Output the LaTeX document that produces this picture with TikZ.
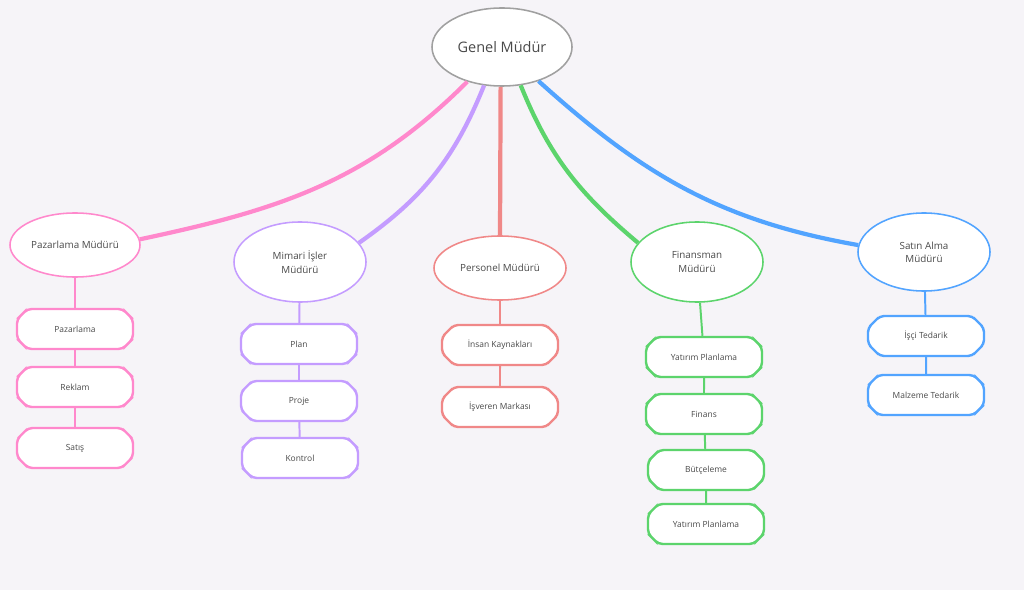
\documentclass[tikz,border=0pt]{standalone}
\usepackage{fontspec}
\setmainfont{Open Sans}
\usetikzlibrary{shapes.geometric,shapes.misc}

\definecolor{bgc}{HTML}{F6F4F8}
\definecolor{txtc}{HTML}{4A4A4A}
\definecolor{gmc}{HTML}{A0A0A0}
\definecolor{pinkc}{HTML}{FF88CC}
\definecolor{purpc}{HTML}{C49CFF}
\definecolor{redc}{HTML}{F08888}
\definecolor{greenc}{HTML}{5CD46C}
\definecolor{bluec}{HTML}{52A4FF}

\begin{document}
\begin{tikzpicture}[x=0.025cm, y=0.025cm, text=txtc,
  mgr/.style={ellipse, draw, fill=white, line width=1.1pt, inner sep=0pt,
    minimum width=3.3cm, minimum height=2cm, align=center,
    font=\fontsize{7}{9.5}\selectfont},
  task/.style={chamfered rectangle, chamfered rectangle xsep=0.3cm,
    chamfered rectangle ysep=0.18cm, draw, fill=white, line width=1.7pt,
    rounded corners=3pt, inner sep=0pt, minimum width=2.9cm,
    minimum height=1cm, font=\fontsize{6}{7}\selectfont},
  link/.style={line width=3pt},
  sub/.style={line width=1.4pt}]

\fill[bgc] (0,0) rectangle (1024,-590);
\useasboundingbox (0,0) rectangle (1024,-590);

% managers
\node[mgr, draw=gmc, minimum width=3.5cm, minimum height=1.95cm,
  font=\fontsize{10.3}{12}\selectfont] (gm) at (502,-47) {Genel Müdür};
\node[mgr, draw=pinkc, minimum width=3.25cm, minimum height=1.6cm] (paz) at (75,-245) {Pazarlama Müdürü};
\node[mgr, draw=purpc] (mim) at (300,-262) {Mimari İşler\\Müdürü};
\node[mgr, draw=redc, minimum height=1.6cm] (per) at (500,-268) {Personel Müdürü};
\node[mgr, draw=greenc] (fin) at (697,-262) {Finansman\\Müdürü};
\node[mgr, draw=bluec, minimum height=1.95cm] (sat) at (924,-252) {Satın Alma\\Müdürü};

% tasks
\node[task, draw=pinkc] (paz1) at (75,-329) {Pazarlama};
\node[task, draw=pinkc] (paz2) at (75,-387) {Reklam};
\node[task, draw=pinkc] (paz3) at (75,-448) {Satış};

\node[task, draw=purpc] (mim1) at (299,-344) {Plan};
\node[task, draw=purpc] (mim2) at (299,-401) {Proje};
\node[task, draw=purpc] (mim3) at (300,-458) {Kontrol};

\node[task, draw=redc] (per1) at (500,-345) {İnsan Kaynakları};
\node[task, draw=redc] (per2) at (500,-407) {İşveren Markası};

\node[task, draw=greenc] (fin1) at (704,-357) {Yatırım Planlama};
\node[task, draw=greenc] (fin2) at (704,-414) {Finans};
\node[task, draw=greenc] (fin3) at (706,-470) {Bütçeleme};
\node[task, draw=greenc] (fin4) at (706,-524) {Yatırım Planlama};

\node[task, draw=bluec] (sat1) at (926,-336) {İşçi Tedarik};
\node[task, draw=bluec] (sat2) at (926,-395) {Malzeme Tedarik};

% top links
\draw[link, pinkc] (gm.225) to[out=225, in=12] (paz.5);
\draw[link, purpc] (gm.245) to[out=248, in=35] (mim.18);
\draw[link, redc] (gm.268) -- (per.north);
\draw[link, greenc] (gm.296) to[out=-68, in=140] (fin.162);
\draw[link, bluec] (gm.317) to[out=-42, in=170] (sat.174);

% sub links
\draw[sub, pinkc] (paz) -- (paz1) -- (paz2) -- (paz3);
\draw[sub, purpc] (mim) -- (mim1) -- (mim2) -- (mim3);
\draw[sub, redc] (per) -- (per1) -- (per2);
\draw[sub, greenc] (fin) -- (fin1) -- (fin2) -- (fin3) -- (fin4);
\draw[sub, bluec] (sat) -- (sat1) -- (sat2);

\end{tikzpicture}
\end{document}
